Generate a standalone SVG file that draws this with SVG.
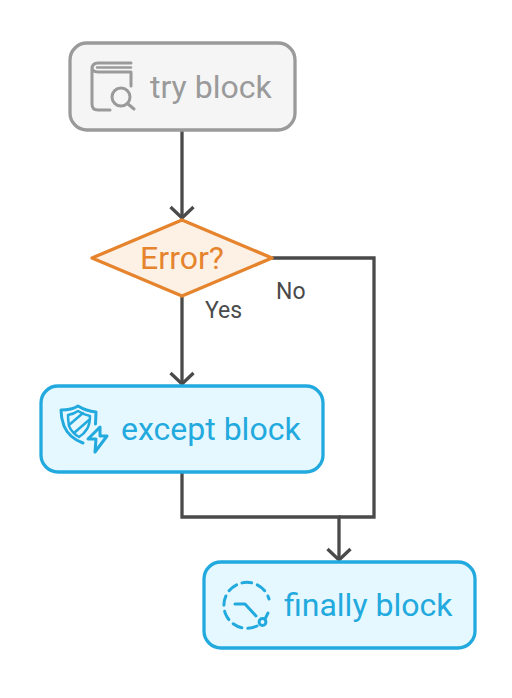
<svg xmlns="http://www.w3.org/2000/svg" width="512" height="698" viewBox="0 0 512 698">
<defs>
<style>
text{font-family:Roboto,"Liberation Sans",sans-serif}
.lab{font-size:32px}
.el{font-size:23px;fill:#4a4a4a}
.conn{fill:none;stroke:#4a4a4a;stroke-width:3.300}
.ic{fill:none;stroke-width:3;stroke-linecap:round;stroke-linejoin:round}
.blue{fill:#e6f8ff;stroke:#22a9de;stroke-width:3.300}
.blueI{stroke:#22a9de}
.blueT{fill:#22a9de}
</style>
<marker id="arr" markerUnits="userSpaceOnUse" markerWidth="28" markerHeight="28" refX="22" refY="14" orient="auto" viewBox="0 0 28 28">
<path d="M11 2.500 L22 14 L11 25.500" fill="none" stroke="#4a4a4a" stroke-width="3.300"/>
</marker>
</defs>
<g id="connectors">
<path class="conn" d="M182 130 V218" marker-end="url(#arr)"/>
<path class="conn" d="M182 296 V384" marker-end="url(#arr)"/>
<path class="conn" d="M272 258 H374 V517 H339"/>
<path class="conn" d="M182 472 V517 H339 V560" marker-end="url(#arr)"/>
<text class="el" x="205" y="318">Yes</text>
<text class="el" x="276" y="299">No</text>
</g>
<g id="try-block">
<rect x="70" y="43" width="225" height="87" rx="17" fill="#f5f5f5" stroke="#9a9a9a" stroke-width="3.300"/>
<g class="ic" stroke="#9a9a9a">
<path d="M131 72 V86 M110 110 H98 Q92 110 92 104 V69 Q92 63 98 63 H131 M131 72 H98 Q92 72 92 67"/>
<path d="M97 67.500 H131" stroke-width="2.400"/>
<circle cx="121" cy="97" r="9"/>
<path d="M128 104 L134 109"/>
</g>
<text class="lab" x="150" y="98" fill="#9a9a9a">try block</text>
</g>
<g id="error-decision">
<polygon points="182,220 272,258 182,296 92,258" fill="#fdf1e5" stroke="#e6842e" stroke-width="3.300" stroke-linejoin="round"/>
<text class="lab" x="182" y="269" text-anchor="middle" fill="#e6842e">Error?</text>
</g>
<g id="except-block">
<rect class="blue" x="41" y="386" width="282" height="86" rx="17"/>
<g class="ic blueI">
<path d="M83 443 Q69 438 64 426 Q61 418 61 410 Q72 410 78 406 Q86 411 96 412 L95.500 424"/>
<path d="M68 415 Q74 414 78 411 Q84 415 90 416 Q90 424 87 429 Q84 434 79 437 Q72 433 69 426 Q68 420 68 415 Z" stroke-width="2.500"/>
<path d="M69 425 L83 413 M74 433 L89 420" stroke-width="2.500"/>
<path d="M100 427 L88 439 H96 L95 452 L107 436 H100 Z"/>
</g>
<text class="lab blueT" x="121" y="440">except block</text>
</g>
<g id="finally-block">
<rect class="blue" x="204" y="562" width="271" height="86" rx="17"/>
<g class="ic blueI">
<path d="M257 626 A23 23 0 1 1 269 599" stroke-dasharray="9.500 6"/>
<path d="M235 604 H245 L256 616"/>
<circle cx="262.500" cy="622" r="3.400"/>
<path d="M265 619 L268 613"/>
</g>
<text class="lab blueT" x="284" y="616">finally block</text>
</g>
</svg>
